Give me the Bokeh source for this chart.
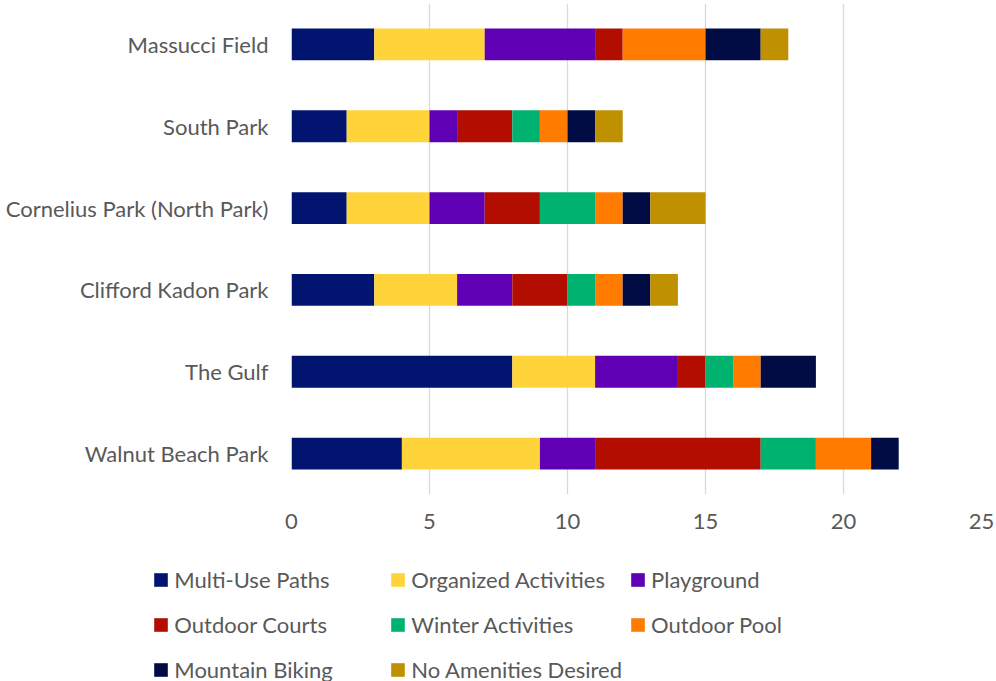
from bokeh.plotting import figure
from bokeh.layouts import column
from bokeh.models import ColumnDataSource, Range1d, FixedTicker, Legend, LegendItem
from bokeh.embed import file_html
from bokeh.resources import INLINE

# bottom-to-top order of parks
parks = ["Walnut Beach Park", "The Gulf", "Clifford Kadon Park",
         "Cornelius Park (North Park)", "South Park", "Massucci Field"]
series = ["Multi-Use Paths", "Organized Activities", "Playground", "Outdoor Courts",
          "Winter Activities", "Outdoor Pool", "Mountain Biking", "No Amenities Desired"]
multi_use_paths      = [4, 8, 3, 2, 2, 3]
organized_activities = [5, 3, 3, 3, 3, 4]
playground           = [2, 3, 2, 2, 1, 4]
outdoor_courts       = [6, 1, 2, 2, 2, 1]
winter_activities    = [2, 1, 1, 2, 1, 0]
outdoor_pool         = [2, 1, 1, 1, 1, 3]
mountain_biking      = [1, 2, 1, 1, 1, 2]
no_amenities         = [0, 0, 1, 2, 1, 1]
x_ticks = [0, 5, 10, 15, 20, 25]

colors = ["#001470", "#FFD43B", "#5F00B4", "#B30D00", "#00B26F", "#FF7C00", "#000C43", "#BF9000"]

keys = ["s%d" % i for i in range(len(series))]
ypos = [i + 0.5 for i in range(len(parks))]
source = ColumnDataSource(dict(
    y=ypos,
    s0=multi_use_paths, s1=organized_activities, s2=playground, s3=outdoor_courts,
    s4=winter_activities, s5=outdoor_pool, s6=mountain_biking, s7=no_amenities,
))

FONT = "Lato"
TXT = "#595959"
FS = "22px"

p = figure(width=996, height=540, output_backend="svg", toolbar_location=None,
           x_range=Range1d(0, 25), y_range=Range1d(0, 6),
           min_border_left=291, min_border_right=15, min_border_top=3, min_border_bottom=46)
p.outline_line_color = None
p.frame_align = False

renderers = p.hbar_stack(keys, y="y", height=0.39, color=colors, line_color=None, source=source)

p.xaxis.ticker = FixedTicker(ticks=x_ticks)
p.yaxis.ticker = FixedTicker(ticks=ypos)
p.yaxis.major_label_overrides = {y: name for y, name in zip(ypos, parks)}

for ax in (p.xaxis[0], p.yaxis[0]):
    ax.axis_line_color = None
    ax.major_tick_line_color = None
    ax.minor_tick_line_color = None
    ax.major_tick_out = 0
    ax.major_tick_in = 0
    ax.major_label_text_font = FONT
    ax.major_label_text_color = TXT
    ax.major_label_text_font_size = FS
p.xaxis.major_label_standoff = 19
p.yaxis.major_label_standoff = 23

p.ygrid.grid_line_color = None
p.xgrid.grid_line_color = "#D9D9D9"
p.xgrid.grid_line_width = 1.3

# legend panel: separate figure below the chart; its (hidden) stacked renderers
# share the chart's data source and colours, only their legend swatches are shown
lg = figure(width=996, height=141, output_backend="svg", toolbar_location=None,
            x_axis_type=None, y_axis_type=None, x_range=Range1d(0, 25), y_range=Range1d(0, 6),
            min_border=0)
lg.outline_line_color = None
lg.frame_align = False
lg.xgrid.grid_line_color = None
lg.ygrid.grid_line_color = None
lg_renderers = lg.hbar_stack(keys, y="y", height=0.39, color=colors, line_color=None, source=source)
for r in lg_renderers:
    r.visible = False
items = [LegendItem(label=name, renderers=[r]) for name, r in zip(series, lg_renderers)]
legend = Legend(items=items, location=(152.3, -7), ncols=3, orientation="horizontal",
                glyph_width=17, glyph_height=17, label_standoff=5, label_width=208,
                label_height=38, spacing=7, padding=0, margin=0,
                label_text_font=FONT, label_text_font_size=FS, label_text_color=TXT,
                border_line_color=None, background_fill_alpha=0)
lg.add_layout(legend, "center")

layout = column(p, lg, spacing=0)
open("out.html", "w").write(file_html(layout, INLINE))
